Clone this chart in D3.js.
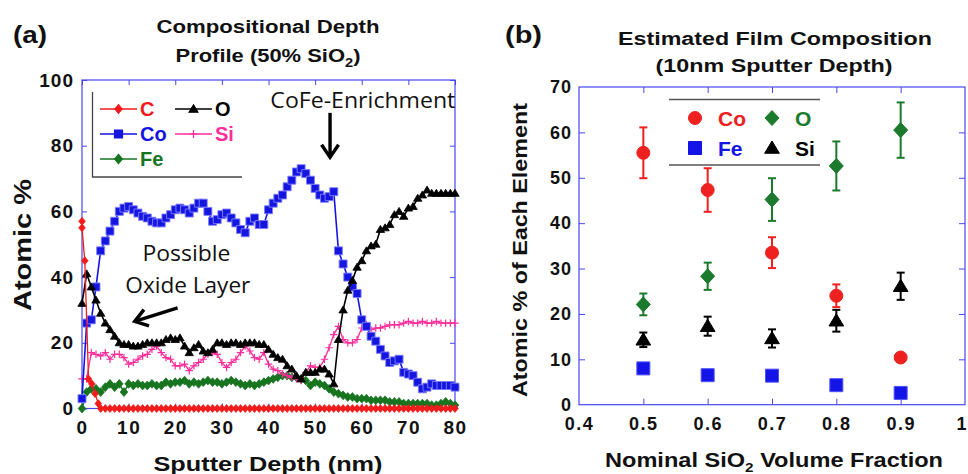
<!DOCTYPE html>
<html><head><meta charset="utf-8">
<script src="https://cdn.jsdelivr.net/npm/d3@7"></script>
<style>
body{margin:0;background:#fff}
svg{display:block}
text{font-family:"Liberation Sans",Arial,sans-serif;font-weight:bold;fill:#111}
</style>
</head><body>
<svg id="c" width="968" height="474"></svg>
<script>
// ---------- Panel (a): compositional depth profile ----------
const depth = [0,1,2,3,4,5,6,7,8,9,10,11,12,13,14,15,16,17,18,19,20,21,22,23,24,25,26,27,28,29,30,31,32,33,34,35,36,37,38,39,40,41,42,43,44,45,46,47,48,49,50,51,52,53,54,55,56,57,58,59,60,61,62,63,64,65,66,67,68,69,70,71,72,73,74,75,76,77,78,79,80];
const coValues = [3,26,27,37,48,51,54,57,60,61,
  61.5,60.5,59.5,58.5,58,57,56.5,56.5,58,59,
  60.5,61,60.5,59.5,61,62.5,62.5,60,57,57.5,
  59,59.5,58,56.5,54.5,53.5,57,58,56,56,
  60.5,62.5,64,65,67.5,69.5,72,73,71.5,69.5,
  67,65,64,64.5,66,48,44,40,37,35,
  27,25,22,20.5,18,16,14,14.5,15,11,
  10.5,10,8,6,6.5,7.5,7,7,7,7,6.5];
const oValues = [32,41,37,33,29,26,24,22,20,19.5,
  19.5,19,19,19.5,20,20,20,20,21,21.5,
  21,21.5,19,17,18.5,19.5,17.5,17,18,20,
  20,19.5,20,20,19.5,20,20,20,19.5,19.5,
  18,16.5,15.5,15,13,12,10,9,11,11,
  11,12,12,10.5,7.5,21,30,36,39,43,
  45,48,49.5,50,54.5,55,56,59,60,58.5,
  61,61.5,64,65,66.5,65.5,65.5,65.5,65.5,65.5,65.5];
const siValues = [9,9,17,16.5,16,17,15,16.5,16.5,15.5,
  13.5,14,15,16,16.5,18,19,17,15.5,15,
  13,13,13.5,11.5,13,14,15,16.5,17,16.5,
  14,12.5,14,15,17,19,17.5,15.5,15,17,
  13.5,12,11.5,10.5,10,9.5,9,8.5,11,13,
  12.5,12.5,15,18.5,22.5,25,21,20,20,21,
  24.5,25.5,24,24.5,24.5,25,25.5,25.5,25.5,26,
  26.5,26,26,26.5,26,26,26.5,26,26,26,26];
const feValues = [0,5,6,6,5,6.5,7.5,6.5,7.5,5,
  7.5,7,7.5,7,7,7.5,7,7,8,7.5,
  8,8,8.5,7.5,8,7.5,8,8.5,8,8,
  7.5,8,8.5,8,7.5,7,7.5,7,7.5,8,
  8.5,9,9.5,10,10,9.5,9.5,9,8.5,7,
  8,7.5,7,6,5,4.5,4,3.5,3.5,3,
  3,3,2.5,2.5,2.5,2.5,2,2,2,1.5,
  1.5,1.5,1.5,1.5,1.5,1,1,1.5,2,1.5,1];
const cDepth = [0,0,0.6,1.4,2.1,2.8,3.5,4,5,6,7,8,9,10,11,12,13,14,15,16,17,18,19,20,21,22,23,24,25,26,27,28,29,30,31,32,33,34,35,36,37,38,39,40,41,42,43,44,45,46,47,48,49,50,51,52,53,54,55,56,57,58,59,60,61,62,63,64,65,66,67,68,69,70,71,72,73,74,75,76,77,78,79,80];
const cValues = [57,55,45,9,7.5,4.5,1.5,
  0,0,0,0,0,0,0,0,0,0,
  0,0,0,0,0,0,0,0,0,0,
  0,0,0,0,0,0,0,0,0,0,
  0,0,0,0,0,0,0,0,0,0,
  0,0,0,0,0,0,0,0,0,0,
  0,0,0,0,0,0,0,0,0,0,
  0,0,0,0,0,0,0,0,0,0,
  0,0,0,0,0,0,0];
const xTicksA = [0,10,20,30,40,50,60,70,80];
const yTicksA = [0,20,40,60,80,100];

// ---------- Panel (b): estimated film composition ----------
const fraction = [0.5,0.6,0.7,0.8,0.9];
const coB = [55.5,47.3,33.5,24,10.4];
const coErr = [5.6,4.8,3.4,2.5,0.6];
const oB = [22.1,28.3,45.2,52.6,60.5];
const oErr = [2.4,3,4.7,5.4,6.1];
const feB = [8,6.5,6.4,4.3,2.6];
const feErr = [0.5,0.5,0.5,0.5,0.5];
const siB = [14.3,17.3,14.6,18.5,26.1];
const siErr = [1.6,2.1,2,2.4,3];
const xTicksB = [0.4,0.5,0.6,0.7,0.8,0.9,1];
const yTicksB = [0,10,20,30,40,50,60,70];

const AXIS = "#4646f2";
const C_RED = "#f21b1b", C_BLUE = "#1515e0", C_PINK = "#ff2d9b", C_GREEN = "#17741f", C_BLACK = "#000";
const B_RED = "#ee2020", B_GREEN = "#1b7a2c", B_BLUE = "#1414e6";

const svg = d3.select("#c");

const diamond = (x,y,w,h)=>`M${x},${y-h}L${x+w},${y}L${x},${y+h}L${x-w},${y}Z`;
const tri = (x,y,s)=>`M${x},${y-s}L${x+s*1.05},${y+s*0.75}L${x-s*1.05},${y+s*0.75}Z`;
const plus = (x,y,s)=>`M${x-s},${y}L${x+s},${y}M${x},${y-s}L${x},${y+s}`;
const square = (x,y,s)=>`M${x-s},${y-s}h${2*s}v${2*s}h${-2*s}Z`;
const circle = (x,y,r)=>`M${x-r},${y}a${r},${r} 0 1,0 ${2*r},0a${r},${r} 0 1,0 ${-2*r},0Z`;

function styleAxis(g, fs, ls){
  g.select(".domain").remove();
  g.selectAll(".tick line").attr("stroke", AXIS).attr("stroke-width", 1);
  g.selectAll(".tick text").attr("fill","#111").style("font-size", fs+"px")
    .style("font-family",'"Liberation Sans",Arial,sans-serif').style("font-weight","bold")
    .style("letter-spacing", ls+"px");
}

// ================= PANEL A =================
const xA = d3.scaleLinear().domain([0,80]).range([82,455]);
const yA = d3.scaleLinear().domain([0,100]).range([408.5,80]);
const gA = svg.append("g");

gA.append("g").attr("transform",`translate(0,${yA(0)})`)
  .call(d3.axisBottom(xA).tickValues(xTicksA).tickSize(-5).tickPadding(12))
  .call(g=>styleAxis(g,19,1.5));
gA.append("g").attr("transform",`translate(0,${yA(100)})`)
  .call(d3.axisTop(xA).tickValues(xTicksA).tickSize(-5).tickFormat(""))
  .call(g=>styleAxis(g,19,0));
gA.append("g").attr("transform",`translate(${xA(0)},0)`)
  .call(d3.axisLeft(yA).tickValues(yTicksA).tickSize(-5).tickPadding(8))
  .call(g=>styleAxis(g,19,1));
gA.append("g").attr("transform",`translate(${xA(80)},0)`)
  .call(d3.axisRight(yA).tickValues(yTicksA).tickSize(-5).tickFormat(""))
  .call(g=>styleAxis(g,18,0));
gA.append("rect").attr("x",xA(0)).attr("y",yA(100)).attr("width",xA(80)-xA(0)).attr("height",yA(0)-yA(100))
  .attr("fill","none").attr("stroke",AXIS).attr("stroke-width",1.2);

const lineA = d3.line().x(d=>xA(d[0])).y(d=>yA(d[1]));
function seriesA(xs, ys, color, lw, marker, opts){
  opts = opts||{};
  const pts = xs.map((x,i)=>[x, ys[i]]);
  const g = gA.append("g");
  g.append("path").attr("d", lineA(pts)).attr("fill","none").attr("stroke",color).attr("stroke-width",lw);
  g.selectAll("path.m").data(pts).join("path").attr("class","m")
    .attr("d", d=>marker(xA(d[0]), yA(d[1])))
    .attr("fill", opts.fill===undefined?color:opts.fill)
    .attr("stroke", opts.stroke||color).attr("stroke-width",opts.sw||0.8);
}
seriesA(depth, feValues, C_GREEN, 1.6, (x,y)=>diamond(x,y,3.8,4.4));
seriesA(depth, siValues, C_PINK, 1.3, (x,y)=>plus(x,y,3.7), {fill:"none", sw:1.2});
seriesA(depth, coValues, C_BLUE, 1.6, (x,y)=>square(x,y,4), {stroke:"#8080ff", sw:0.9});
seriesA(depth, oValues, C_BLACK, 1.6, (x,y)=>tri(x,y,4));
seriesA(cDepth, cValues, C_RED, 1.3, (x,y)=>diamond(x,y,3.3,3.9));

// legend (a)
const legA = gA.append("g");
legA.append("path").attr("d",`M92.5,92V177H242`).attr("fill","none").attr("stroke","#444").attr("stroke-width",1.3);
const legItemsA = [
  {name:"C", color:C_RED, x:100, y:109, m:(x,y)=>diamond(x,y,3.6,4.3), fill:true},
  {name:"O", color:C_BLACK, x:175, y:109, m:(x,y)=>tri(x,y,4.2), fill:true},
  {name:"Co", color:C_BLUE, x:100, y:134, m:(x,y)=>square(x,y,4), fill:true},
  {name:"Si", color:C_PINK, x:175, y:134, m:(x,y)=>plus(x,y,4), fill:false},
  {name:"Fe", color:C_GREEN, x:100, y:159, m:(x,y)=>diamond(x,y,3.9,4.5), fill:true}
];
legItemsA.forEach(d=>{
  legA.append("line").attr("x1",d.x).attr("x2",d.x+37).attr("y1",d.y).attr("y2",d.y).attr("stroke",d.color).attr("stroke-width",1.5);
  legA.append("path").attr("d",d.m(d.x+18.5,d.y)).attr("fill",d.fill?d.color:"none").attr("stroke",d.color).attr("stroke-width",1.2);
  legA.append("text").attr("x",d.x+40).attr("y",d.y+7).text(d.name).style("font-size","20px").style("fill",d.color);
});

// annotations (a)
const ann = gA.append("g");
const annFont = t=>t.style("font-family",'"Open Sans","Liberation Sans",sans-serif').style("font-weight","normal").style("font-size","21px").attr("lengthAdjust","spacingAndGlyphs");
ann.append("text").attr("x",xA(40.4)).attr("y",yA(91.5)).text("CoFe-Enrichment").attr("textLength",185).call(annFont);
ann.append("text").attr("x",xA(22.4)).attr("y",yA(44.9)).attr("text-anchor","middle").text("Possible").attr("textLength",88).call(annFont);
ann.append("text").attr("x",xA(22.7)).attr("y",yA(35.2)).attr("text-anchor","middle").text("Oxide Layer").attr("textLength",125).call(annFont);
function arrow(x1,y1,x2,y2){
  const a = Math.atan2(y2-y1,x2-x1), L=15, sp=0.6;
  ann.append("line").attr("x1",x1).attr("y1",y1).attr("x2",x2).attr("y2",y2).attr("stroke","#000").attr("stroke-width",3.4);
  ann.append("path").attr("d",`M${x2-L*Math.cos(a-sp)},${y2-L*Math.sin(a-sp)}L${x2},${y2}L${x2-L*Math.cos(a+sp)},${y2-L*Math.sin(a+sp)}`)
    .attr("fill","none").attr("stroke","#000").attr("stroke-width",3.4).attr("stroke-linejoin","miter");
}
arrow(xA(53.2), yA(90), xA(53.2), yA(76.5));
arrow(xA(20.5), yA(30.6), xA(11.3), yA(26.5));

// titles (a)
svg.append("text").attr("x",13).attr("y",43).text("(a)").style("font-size","24px").attr("textLength",34).attr("lengthAdjust","spacingAndGlyphs");
svg.append("text").attr("x",268).attr("y",33).attr("text-anchor","middle").text("Compositional Depth")
  .style("font-size","18px").attr("textLength",223).attr("lengthAdjust","spacingAndGlyphs");
svg.append("text").attr("x",268).attr("y",62).attr("text-anchor","middle").style("font-size","18px")
  .attr("textLength",185).attr("lengthAdjust","spacingAndGlyphs")
  .call(t=>{t.append("tspan").text("Profile (50% SiO");t.append("tspan").attr("dy",5).style("font-size","12px").text("2");t.append("tspan").attr("dy",-5).text(")");});
svg.append("text").attr("x",268).attr("y",471).attr("text-anchor","middle").text("Sputter Depth (nm)")
  .style("font-size","21px").attr("textLength",229).attr("lengthAdjust","spacingAndGlyphs");
svg.append("text").attr("transform","translate(31,245) rotate(-90)").attr("text-anchor","middle").text("Atomic %")
  .style("font-size","23px").attr("textLength",132).attr("lengthAdjust","spacingAndGlyphs");

// ================= PANEL B =================
const xB = d3.scaleLinear().domain([0.4,1]).range([579,965]);
const yB = d3.scaleLinear().domain([0,70]).range([404.7,87]);
const gB = svg.append("g");
const innerX = xTicksB.filter(v=>v>0.45 && v<0.95);
const innerY = yTicksB.filter(v=>v>0 && v<70);
gB.append("g").attr("transform",`translate(0,${yB(0)})`)
  .call(d3.axisBottom(xB).tickValues(xTicksB).tickFormat(d=>d===1?"1":d3.format(".1f")(d)).tickSize(0).tickPadding(13))
  .call(g=>styleAxis(g,18,1.5))
  .call(g=>g.selectAll(".tick text").filter(d=>d===1).attr("text-anchor","end").attr("dx","1").style("letter-spacing","0px"));
gB.append("g").attr("transform",`translate(0,${yB(0)})`)
  .call(d3.axisBottom(xB).tickValues(innerX).tickSize(-6).tickFormat(""))
  .call(g=>styleAxis(g,18,0));
gB.append("g").attr("transform",`translate(0,${yB(70)})`)
  .call(d3.axisTop(xB).tickValues(innerX).tickSize(-6).tickFormat(""))
  .call(g=>styleAxis(g,18,0));
gB.append("g").attr("transform",`translate(${xB(0.4)},0)`)
  .call(d3.axisLeft(yB).tickValues(yTicksB).tickSize(0).tickPadding(7))
  .call(g=>styleAxis(g,18,1));
gB.append("g").attr("transform",`translate(${xB(0.4)},0)`)
  .call(d3.axisLeft(yB).tickValues(innerY).tickSize(-6).tickFormat(""))
  .call(g=>styleAxis(g,18,0));
gB.append("g").attr("transform",`translate(${xB(1)},0)`)
  .call(d3.axisRight(yB).tickValues(innerY).tickSize(-6).tickFormat(""))
  .call(g=>styleAxis(g,18,0));
gB.append("rect").attr("x",xB(0.4)).attr("y",yB(70)).attr("width",xB(1)-xB(0.4)).attr("height",yB(0)-yB(70))
  .attr("fill","none").attr("stroke",AXIS).attr("stroke-width",1.2);

function seriesB(vals, errs, color, marker, mstroke){
  const g = gB.append("g");
  fraction.forEach((f,i)=>{
    const x = xB(f), y1 = yB(vals[i]-errs[i]), y2 = yB(vals[i]+errs[i]);
    g.append("line").attr("x1",x).attr("x2",x).attr("y1",y1).attr("y2",y2).attr("stroke",color).attr("stroke-width",2);
    g.append("line").attr("x1",x-4).attr("x2",x+4).attr("y1",y1).attr("y2",y1).attr("stroke",color).attr("stroke-width",2);
    g.append("line").attr("x1",x-4).attr("x2",x+4).attr("y1",y2).attr("y2",y2).attr("stroke",color).attr("stroke-width",2);
  });
  g.selectAll("path.m").data(fraction.map((f,i)=>[f,vals[i]])).join("path").attr("class","m")
    .attr("d",d=>marker(xB(d[0]), yB(d[1]))).attr("fill",color).attr("stroke",mstroke||color).attr("stroke-width",1);
}
seriesB(feB, feErr, B_BLUE, (x,y)=>square(x,y,6.5), "#5050ff");
seriesB(siB, siErr, C_BLACK, (x,y)=>tri(x,y,7));
seriesB(coB, coErr, B_RED, (x,y)=>circle(x,y,6.5));
seriesB(oB, oErr, B_GREEN, (x,y)=>diamond(x,y,7,7.5));

// legend (b)
const legB = gB.append("g");
legB.append("line").attr("x1",669).attr("x2",820).attr("y1",99.5).attr("y2",99.5).attr("stroke","#555").attr("stroke-width",1.6);
legB.append("line").attr("x1",669).attr("x2",820).attr("y1",165).attr("y2",165).attr("stroke","#555").attr("stroke-width",1.6);
const legItemsB = [
  {name:"Co", color:B_RED, x:695, y:118, m:(x,y)=>circle(x,y,6.5)},
  {name:"O", color:B_GREEN, x:772, y:118, m:(x,y)=>diamond(x,y,7,7.5)},
  {name:"Fe", color:B_BLUE, x:695, y:148, m:(x,y)=>square(x,y,6.5)},
  {name:"Si", color:C_BLACK, x:772, y:148, m:(x,y)=>tri(x,y,7)}
];
legItemsB.forEach(d=>{
  legB.append("path").attr("d",d.m(d.x,d.y)).attr("fill",d.color).attr("stroke",d.color);
  legB.append("text").attr("x",d.x+23).attr("y",d.y+7.5).text(d.name).style("font-size","21px").style("fill",d.color);
});

// titles (b)
svg.append("text").attr("x",505).attr("y",43).text("(b)").style("font-size","24px").attr("textLength",37).attr("lengthAdjust","spacingAndGlyphs");
svg.append("text").attr("x",775).attr("y",45).attr("text-anchor","middle").text("Estimated Film Composition")
  .style("font-size","18px").attr("textLength",314).attr("lengthAdjust","spacingAndGlyphs");
svg.append("text").attr("x",774).attr("y",72).attr("text-anchor","middle").text("(10nm Sputter Depth)")
  .style("font-size","18px").attr("textLength",237).attr("lengthAdjust","spacingAndGlyphs");
svg.append("text").attr("x",774).attr("y",467).attr("text-anchor","middle").style("font-size","20px")
  .attr("textLength",338).attr("lengthAdjust","spacingAndGlyphs")
  .call(t=>{t.append("tspan").text("Nominal SiO");t.append("tspan").attr("dy",5).style("font-size","13px").text("2");t.append("tspan").attr("dy",-5).text(" Volume Fraction");});
svg.append("text").attr("transform","translate(527,250) rotate(-90)").attr("text-anchor","middle").text("Atomic % of Each Element")
  .style("font-size","21px").attr("textLength",294).attr("lengthAdjust","spacingAndGlyphs");
</script>
</body></html>
